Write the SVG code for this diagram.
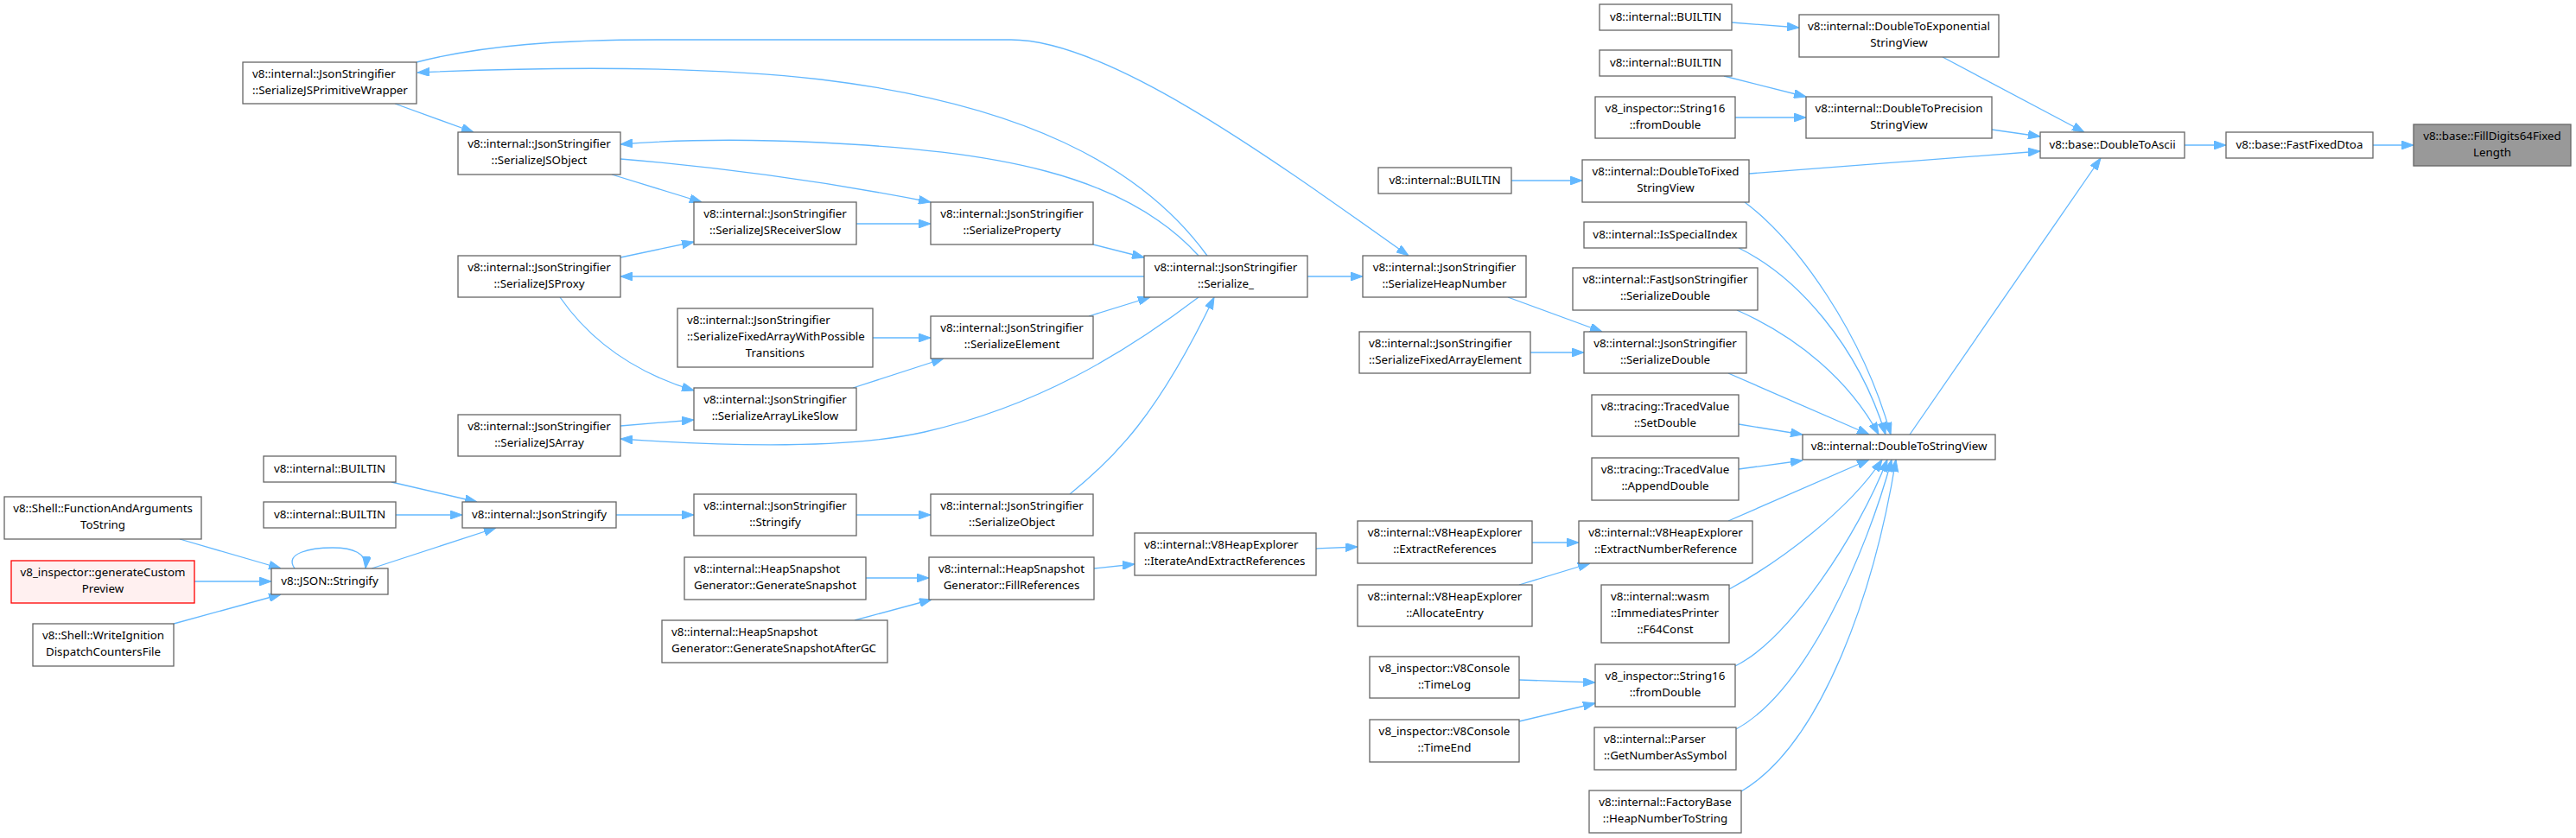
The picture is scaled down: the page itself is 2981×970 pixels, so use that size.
<svg xmlns="http://www.w3.org/2000/svg" width="2981" height="970" viewBox="0 0 2981 970">
<style>
.node rect{fill:#ffffff;stroke:#666666;stroke-width:1.3}
.node.hl rect{fill:#999999;stroke:#666666}
.node.red rect{fill:#fff0f0;stroke:#ff0000}
text{font-family:"Noto Sans","Open Sans",sans-serif;font-size:13.33px;fill:#000000}
.c{text-anchor:middle}
.l{text-anchor:start}
#edges path{fill:none;stroke:#63b8ff;stroke-width:1.3;marker-end:url(#arr)}
</style>
<defs>
<marker id="arr" markerUnits="userSpaceOnUse" viewBox="0 0 14 10" markerWidth="14" markerHeight="10" refX="14" refY="5" orient="auto">
<path d="M0,0 L14,5 L0,10 Z" fill="#63b8ff" stroke="#63b8ff" stroke-width="1"/>
</marker>
</defs>
<rect width="2981" height="970" fill="#ffffff"/>
<g id="edges">
<path d="M2746,168 L2793,168"/>
<path d="M2528,168 L2576,168"/>
<path d="M2248,66 L2412,153"/>
<path d="M2305,150 L2361,158"/>
<path d="M2024,201 L2361,175"/>
<path d="M2210,503 L2431,183"/>
<path d="M2004,26 L2082,32"/>
<path d="M1995,88 L2090,112"/>
<path d="M2008,136 L2090,136"/>
<path d="M1749,209 L1831,209"/>
<path d="M2019,234 C2080,280 2155,385 2188,503"/>
<path d="M2012,287 C2080,320 2150,400 2182,503"/>
<path d="M2010,359 C2080,390 2140,440 2174,503"/>
<path d="M2000,432 L2163,503"/>
<path d="M2012,491 L2086,503"/>
<path d="M2012,543 L2086,533"/>
<path d="M2000,603 L2163,532"/>
<path d="M2001,682 C2060,650 2140,590 2178,532"/>
<path d="M2008,771 C2070,740 2150,620 2184,532"/>
<path d="M2009,844 C2090,800 2160,640 2189,532"/>
<path d="M2015,916 C2110,860 2170,680 2194,532"/>
<path d="M1745,344 L1854,384"/>
<path d="M1771,408 L1833,408"/>
<path d="M1513,320 L1577,320"/>
<path d="M482,72 C560,52 650,46 760,46 L1170,46 C1280,46 1460,175 1630,296"/>
<path d="M1397,296 C1320,190 1180,120 950,92 C800,75 620,78 483,84"/>
<path d="M457,120 L548,153"/>
<path d="M1387,296 C1300,200 1150,175 950,165 C850,160 780,162 718,167"/>
<path d="M718,184 C850,195 980,215 1077,234"/>
<path d="M708,202 L812,234"/>
<path d="M991,259 L1077,259"/>
<path d="M1265,283 L1324,298"/>
<path d="M718,298 L803,280"/>
<path d="M1324,320 L718,320"/>
<path d="M648,344 C680,390 730,430 803,452"/>
<path d="M1010,391 L1077,391"/>
<path d="M1260,366 L1331,344"/>
<path d="M987,449 L1092,415"/>
<path d="M718,493 L803,486"/>
<path d="M1387,344 C1300,410 1200,470 1070,500 C990,518 860,518 718,508"/>
<path d="M1238,572 C1290,530 1340,480 1405,344"/>
<path d="M991,596 L1077,596"/>
<path d="M713,596 L803,596"/>
<path d="M453,558 L552,581"/>
<path d="M458,596 L535,596"/>
<path d="M430,658 L574,611"/>
<path d="M341,658 C328,640 360,634 385,634 C408,634 425,640 423,658"/>
<path d="M208,624 L325,658"/>
<path d="M225,673 L314,673"/>
<path d="M201,722 L325,688"/>
<path d="M1002,669 L1075,669"/>
<path d="M989,718 L1078,694"/>
<path d="M1266,658 L1313,653"/>
<path d="M1523,635 L1571,633"/>
<path d="M1773,628 L1827,628"/>
<path d="M1758,677 L1840,652"/>
<path d="M1758,787 L1846,790"/>
<path d="M1758,835 L1846,814"/>
</g>
<g id="n1" class="node hl"><rect x="2793" y="144" width="182" height="48"/><text class="c" x="2884" y="162">v8::base::FillDigits64Fixed</text><text class="c" x="2884" y="181">Length</text></g>
<g id="n2" class="node"><rect x="2576" y="153" width="170" height="30"/><text class="c" x="2661" y="172">v8::base::FastFixedDtoa</text></g>
<g id="n3" class="node"><rect x="2361" y="153" width="167" height="30"/><text class="c" x="2444.5" y="172">v8::base::DoubleToAscii</text></g>
<g id="n4" class="node"><rect x="2082" y="17" width="231" height="49"/><text class="c" x="2197.5" y="35">v8::internal::DoubleToExponential</text><text class="c" x="2197.5" y="54">StringView</text></g>
<g id="n5" class="node"><rect x="2090" y="112" width="215" height="48"/><text class="c" x="2197.5" y="130">v8::internal::DoubleToPrecision</text><text class="c" x="2197.5" y="149">StringView</text></g>
<g id="n6" class="node"><rect x="1831" y="185" width="193" height="49"/><text class="c" x="1927.5" y="203">v8::internal::DoubleToFixed</text><text class="c" x="1927.5" y="222">StringView</text></g>
<g id="n7" class="node"><rect x="2086" y="503" width="223" height="29"/><text class="c" x="2197.5" y="521">v8::internal::DoubleToStringView</text></g>
<g id="n8" class="node"><rect x="1851" y="5" width="153" height="30"/><text class="c" x="1927.5" y="24">v8::internal::BUILTIN</text></g>
<g id="n9" class="node"><rect x="1851" y="58" width="153" height="30"/><text class="c" x="1927.5" y="77">v8::internal::BUILTIN</text></g>
<g id="n10" class="node"><rect x="1846" y="112" width="162" height="48"/><text class="c" x="1927" y="130">v8_inspector::String16</text><text class="c" x="1927" y="149">::fromDouble</text></g>
<g id="n11" class="node"><rect x="1595" y="194" width="154" height="30"/><text class="c" x="1672" y="213">v8::internal::BUILTIN</text></g>
<g id="n12" class="node"><rect x="1833" y="257" width="188" height="30"/><text class="c" x="1927" y="276">v8::internal::IsSpecialIndex</text></g>
<g id="n13" class="node"><rect x="1820" y="310" width="214" height="49"/><text class="c" x="1927" y="328">v8::internal::FastJsonStringifier</text><text class="c" x="1927" y="347">::SerializeDouble</text></g>
<g id="n14" class="node"><rect x="1833" y="384" width="188" height="48"/><text class="c" x="1927" y="402">v8::internal::JsonStringifier</text><text class="c" x="1927" y="421">::SerializeDouble</text></g>
<g id="n15" class="node"><rect x="1577" y="296" width="189" height="48"/><text class="c" x="1671.5" y="314">v8::internal::JsonStringifier</text><text class="c" x="1671.5" y="333">::SerializeHeapNumber</text></g>
<g id="n16" class="node"><rect x="1573" y="384" width="198" height="48"/><text class="l" x="1584" y="402">v8::internal::JsonStringifier</text><text class="l" x="1584" y="421">::SerializeFixedArrayElement</text></g>
<g id="n17" class="node"><rect x="1842" y="457" width="170" height="48"/><text class="c" x="1927" y="475">v8::tracing::TracedValue</text><text class="c" x="1927" y="494">::SetDouble</text></g>
<g id="n18" class="node"><rect x="1842" y="530" width="170" height="49"/><text class="c" x="1927" y="548">v8::tracing::TracedValue</text><text class="c" x="1927" y="567">::AppendDouble</text></g>
<g id="n19" class="node"><rect x="1827" y="603" width="201" height="49"/><text class="c" x="1927.5" y="621">v8::internal::V8HeapExplorer</text><text class="c" x="1927.5" y="640">::ExtractNumberReference</text></g>
<g id="n20" class="node"><rect x="1853" y="677" width="148" height="67"/><text class="l" x="1864" y="695">v8::internal::wasm</text><text class="l" x="1864" y="714">::ImmediatesPrinter</text><text class="c" x="1927" y="733">::F64Const</text></g>
<g id="n21" class="node"><rect x="1846" y="769" width="162" height="49"/><text class="c" x="1927" y="787">v8_inspector::String16</text><text class="c" x="1927" y="806">::fromDouble</text></g>
<g id="n22" class="node"><rect x="1845" y="842" width="164" height="49"/><text class="l" x="1856" y="860">v8::internal::Parser</text><text class="l" x="1856" y="879">::GetNumberAsSymbol</text></g>
<g id="n23" class="node"><rect x="1839" y="915" width="176" height="49"/><text class="c" x="1927" y="933">v8::internal::FactoryBase</text><text class="c" x="1927" y="952">::HeapNumberToString</text></g>
<g id="n24" class="node"><rect x="1571" y="603" width="202" height="49"/><text class="c" x="1672" y="621">v8::internal::V8HeapExplorer</text><text class="c" x="1672" y="640">::ExtractReferences</text></g>
<g id="n25" class="node"><rect x="1571" y="677" width="202" height="48"/><text class="c" x="1672" y="695">v8::internal::V8HeapExplorer</text><text class="c" x="1672" y="714">::AllocateEntry</text></g>
<g id="n26" class="node"><rect x="1585" y="760" width="173" height="48"/><text class="c" x="1671.5" y="778">v8_inspector::V8Console</text><text class="c" x="1671.5" y="797">::TimeLog</text></g>
<g id="n27" class="node"><rect x="1585" y="833" width="173" height="49"/><text class="c" x="1671.5" y="851">v8_inspector::V8Console</text><text class="c" x="1671.5" y="870">::TimeEnd</text></g>
<g id="n28" class="node"><rect x="1313" y="617" width="210" height="49"/><text class="l" x="1324" y="635">v8::internal::V8HeapExplorer</text><text class="l" x="1324" y="654">::IterateAndExtractReferences</text></g>
<g id="n29" class="node"><rect x="1075" y="645" width="191" height="49"/><text class="c" x="1170.5" y="663">v8::internal::HeapSnapshot</text><text class="c" x="1170.5" y="682">Generator::FillReferences</text></g>
<g id="n30" class="node"><rect x="792" y="645" width="210" height="49"/><text class="l" x="803" y="663">v8::internal::HeapSnapshot</text><text class="l" x="803" y="682">Generator::GenerateSnapshot</text></g>
<g id="n31" class="node"><rect x="766" y="718" width="261" height="49"/><text class="l" x="777" y="736">v8::internal::HeapSnapshot</text><text class="l" x="777" y="755">Generator::GenerateSnapshotAfterGC</text></g>
<g id="n32" class="node"><rect x="1324" y="296" width="189" height="48"/><text class="c" x="1418.5" y="314">v8::internal::JsonStringifier</text><text class="c" x="1418.5" y="333">::Serialize_</text></g>
<g id="n33" class="node"><rect x="1077" y="234" width="188" height="49"/><text class="c" x="1171" y="252">v8::internal::JsonStringifier</text><text class="c" x="1171" y="271">::SerializeProperty</text></g>
<g id="n34" class="node"><rect x="803" y="234" width="188" height="49"/><text class="c" x="897" y="252">v8::internal::JsonStringifier</text><text class="c" x="897" y="271">::SerializeJSReceiverSlow</text></g>
<g id="n35" class="node"><rect x="784" y="357" width="226" height="68"/><text class="l" x="795" y="375">v8::internal::JsonStringifier</text><text class="l" x="795" y="394">::SerializeFixedArrayWithPossible</text><text class="c" x="897" y="413">Transitions</text></g>
<g id="n36" class="node"><rect x="1077" y="366" width="188" height="49"/><text class="c" x="1171" y="384">v8::internal::JsonStringifier</text><text class="c" x="1171" y="403">::SerializeElement</text></g>
<g id="n37" class="node"><rect x="803" y="449" width="188" height="49"/><text class="c" x="897" y="467">v8::internal::JsonStringifier</text><text class="c" x="897" y="486">::SerializeArrayLikeSlow</text></g>
<g id="n38" class="node"><rect x="803" y="572" width="188" height="48"/><text class="c" x="897" y="590">v8::internal::JsonStringifier</text><text class="c" x="897" y="609">::Stringify</text></g>
<g id="n39" class="node"><rect x="1077" y="572" width="188" height="48"/><text class="c" x="1171" y="590">v8::internal::JsonStringifier</text><text class="c" x="1171" y="609">::SerializeObject</text></g>
<g id="n40" class="node"><rect x="281" y="72" width="201" height="48"/><text class="l" x="292" y="90">v8::internal::JsonStringifier</text><text class="l" x="292" y="109">::SerializeJSPrimitiveWrapper</text></g>
<g id="n41" class="node"><rect x="530" y="153" width="188" height="49"/><text class="c" x="624" y="171">v8::internal::JsonStringifier</text><text class="c" x="624" y="190">::SerializeJSObject</text></g>
<g id="n42" class="node"><rect x="530" y="296" width="188" height="48"/><text class="c" x="624" y="314">v8::internal::JsonStringifier</text><text class="c" x="624" y="333">::SerializeJSProxy</text></g>
<g id="n43" class="node"><rect x="530" y="480" width="188" height="48"/><text class="c" x="624" y="498">v8::internal::JsonStringifier</text><text class="c" x="624" y="517">::SerializeJSArray</text></g>
<g id="n44" class="node"><rect x="305" y="528" width="153" height="30"/><text class="c" x="381.5" y="547">v8::internal::BUILTIN</text></g>
<g id="n45" class="node"><rect x="305" y="581" width="153" height="30"/><text class="c" x="381.5" y="600">v8::internal::BUILTIN</text></g>
<g id="n46" class="node"><rect x="535" y="581" width="178" height="30"/><text class="c" x="624" y="600">v8::internal::JsonStringify</text></g>
<g id="n47" class="node"><rect x="314" y="658" width="135" height="30"/><text class="c" x="381.5" y="677">v8::JSON::Stringify</text></g>
<g id="n48" class="node"><rect x="5" y="575" width="228" height="49"/><text class="c" x="119" y="593">v8::Shell::FunctionAndArguments</text><text class="c" x="119" y="612">ToString</text></g>
<g id="n49" class="node red"><rect x="13" y="649" width="212" height="49"/><text class="c" x="119" y="667">v8_inspector::generateCustom</text><text class="c" x="119" y="686">Preview</text></g>
<g id="n50" class="node"><rect x="38" y="722" width="163" height="49"/><text class="c" x="119.5" y="740">v8::Shell::WriteIgnition</text><text class="c" x="119.5" y="759">DispatchCountersFile</text></g>
</svg>
